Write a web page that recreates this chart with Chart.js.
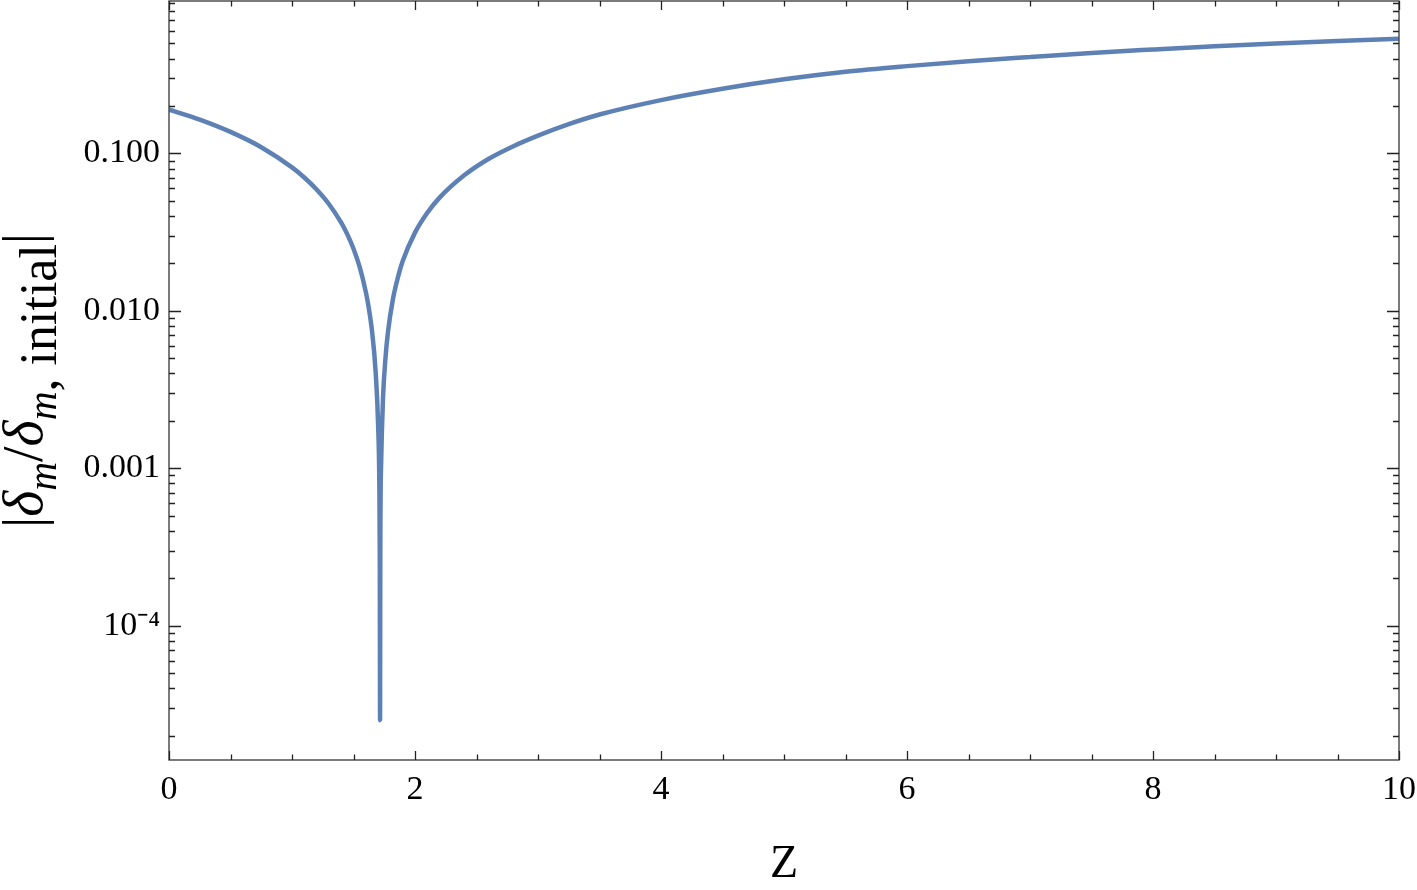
<!DOCTYPE html>
<html>
<head>
<meta charset="utf-8">
<script src="https://cdn.jsdelivr.net/npm/chart.js@4.4.0/dist/chart.umd.min.js"></script>
<style>
  html, body { margin: 0; padding: 0; background: #fff; }
</style>
</head>
<body>
<canvas id="grafica" width="1417" height="890"></canvas>
<script>
  // datos de la curva |delta_m / delta_m,initial| contra Z
  const zValores = [0, 0.25, 0.5, 0.75, 1.0, 1.1, 1.2, 1.3, 1.4, 1.45, 1.5, 1.55, 1.6, 1.62, 1.65, 1.68, 1.70, 1.71, 1.714,
    1.716, 1.718, 1.725, 1.74, 1.76, 1.78, 1.82, 1.86, 1.9, 2.0, 2.1, 2.2, 2.4, 2.6, 2.8, 3.0, 3.25, 3.5, 4.0, 4.5,
    5.0, 5.5, 6.0, 6.5, 7.0, 7.5, 8.0, 8.5, 9.0, 9.5, 10.0];
  const deltaValores = [0.190, 0.164, 0.137, 0.1095, 0.0815, 0.0703, 0.0590, 0.0477, 0.0363, 0.0306, 0.0248, 0.0190, 0.0132, 0.0109, 0.0075, 0.0041, 0.0019, 0.0008, 0.00025,
    0.000025, 0.0003, 0.0011, 0.0028, 0.0050, 0.0073, 0.0118, 0.0162, 0.0207, 0.0314, 0.0420, 0.0524, 0.0726, 0.0925, 0.1112, 0.1298, 0.1535, 0.1767, 0.2182, 0.2576,
    0.2957, 0.3304, 0.3587, 0.385, 0.4096, 0.435, 0.4575, 0.4797, 0.4998, 0.5185, 0.536];

  const xTicks = [0, 2, 4, 6, 8, 10];
  const yTicks = [0.0001, 0.001, 0.01, 0.1];
  const yEtiquetas = ['10\u207B\u2074', '0.001', '0.010', '0.100'];

  const colorCurva = '#5E81B5';
  const fuente = 'Liberation Serif';

  const $grafica = document.querySelector('#grafica');

  // marco, ticks hacia dentro y titulos de ejes
  const marco = {
    id: 'marco',
    afterDraw(chart) {
      const ctx = chart.ctx;
      const a = chart.chartArea;
      const sx = chart.scales.x, sy = chart.scales.y;
      ctx.save();
      ctx.strokeStyle = '#444';
      ctx.lineWidth = 1.4;
      ctx.strokeRect(a.left, a.top, a.right - a.left, a.bottom - a.top);

      ctx.strokeStyle = '#222';
      ctx.lineWidth = 1.3;
      ctx.beginPath();
      // ticks x
      for (let v = 0; v <= 10.001; v += 0.5) {
        const px = Math.round(sx.getPixelForValue(v)) + 0.5;
        const len = (Math.abs(v / 2 - Math.round(v / 2)) < 1e-6) ? 9 : 5.5;
        ctx.moveTo(px, a.bottom); ctx.lineTo(px, a.bottom - len);
        ctx.moveTo(px, a.top); ctx.lineTo(px, a.top + len);
      }
      // ticks y (log)
      for (let n = -5; n <= 0; n++) {
        for (let k = 1; k <= 9; k++) {
          const v = k * Math.pow(10, n);
          if (v < sy.min || v > sy.max) continue;
          const py = Math.round(sy.getPixelForValue(v)) + 0.5;
          const len = k === 1 ? 12 : 6;
          ctx.moveTo(a.left, py); ctx.lineTo(a.left + len, py);
          ctx.moveTo(a.right, py); ctx.lineTo(a.right - len, py);
        }
      }
      ctx.stroke();

      // titulo eje x
      ctx.fillStyle = '#000';
      ctx.font = '46px "' + fuente + '"';
      ctx.textAlign = 'center';
      ctx.textBaseline = 'alphabetic';
      ctx.fillText('Z', (a.left + a.right) / 2, 877);

      // titulo eje y: |δ_m/δ_m, initial|
      const partes = [
        { t: '|', f: 'normal 56px', dy: 0 },
        { t: 'δ', f: 'italic 56px', dy: 0 },
        { t: 'm', f: 'italic 40px', dy: 14 },
        { t: '/', f: 'normal 56px', dy: 0 },
        { t: 'δ', f: 'italic 56px', dy: 0 },
        { t: 'm', f: 'italic 40px', dy: 14 },
        { t: ', initial', f: 'normal 52px', dy: 14 },
        { t: '|', f: 'normal 56px', dy: 0 }
      ];
      let total = 0;
      partes.forEach(p => {
        ctx.font = p.f + ' "' + fuente + '"';
        p.w = ctx.measureText(p.t).width;
        total += p.w;
      });
      ctx.translate(42, (a.top + a.bottom) / 2);
      ctx.rotate(-Math.PI / 2);
      ctx.textAlign = 'left';
      let x = -total / 2;
      partes.forEach(p => {
        ctx.font = p.f + ' "' + fuente + '"';
        ctx.fillText(p.t, x, p.dy);
        x += p.w;
      });
      ctx.restore();
    }
  };

  new Chart($grafica, {
    type: 'line',
    data: {
      datasets: [{
        data: zValores.map((z, i) => ({ x: z, y: deltaValores[i] })),
        borderColor: colorCurva,
        borderWidth: 4.5,
        pointRadius: 0,
        cubicInterpolationMode: 'monotone',
        borderJoinStyle: 'bevel',
        borderCapStyle: 'butt',
        fill: false
      }]
    },
    options: {
      responsive: false,
      animation: false,
      layout: { padding: { top: 1, right: 18, left: 0, bottom: 0 } },
      plugins: { legend: { display: false }, tooltip: { enabled: false } },
      scales: {
        x: {
          type: 'linear',
          min: 0,
          max: 10,
          grid: { display: false, drawTicks: false },
          border: { display: false },
          afterBuildTicks: s => { s.ticks = xTicks.map(v => ({ value: v })); },
          afterFit: s => { s.height = 130; s.paddingLeft = 0; s.paddingRight = 0; },
          ticks: {
            padding: 10,
            color: '#000',
            maxRotation: 0,
            autoSkip: false,
            font: { family: fuente, size: 34 },
            callback: v => String(v)
          }
        },
        y: {
          type: 'logarithmic',
          min: 1.4e-5,
          max: 0.93,
          grid: { display: false, drawTicks: false },
          border: { display: false },
          afterBuildTicks: s => { s.ticks = yTicks.map(v => ({ value: v })); },
          afterFit: s => { s.width = 169; s.paddingTop = 0; s.paddingBottom = 0; },
          ticks: {
            padding: 9,
            color: '#000',
            autoSkip: false,
            font: { family: fuente, size: 34 },
            callback: function (v) {
              const i = yTicks.findIndex(t => Math.abs(t - v) / t < 1e-6);
              return i >= 0 ? yEtiquetas[i] : '';
            }
          }
        }
      }
    },
    plugins: [marco]
  });
</script>
</body>
</html>
